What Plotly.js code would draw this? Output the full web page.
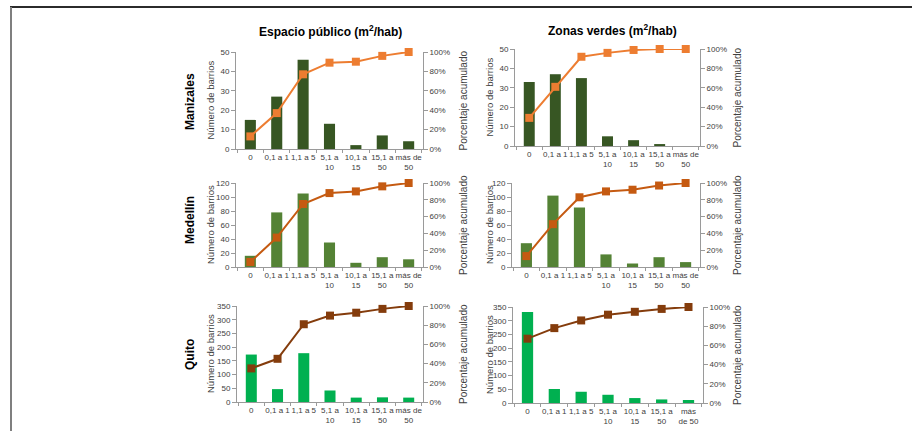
<!DOCTYPE html>
<html>
<head>
<meta charset="utf-8">
<script src="https://cdn.plot.ly/plotly-3.0.1.min.js"></script>
<style>html,body{margin:0;padding:0;background:#fff;}#chart{width:912px;height:431px;}</style>
</head>
<body>
<div id="chart"></div>
<script>
// ---- data ----
const categories = ["0", "0,1 a 1", "1,1 a 5", "5,1 a<br>10", "10,1 a<br>15", "15,1 a<br>50", "más de<br>50"];
const categoriesQuitoZV = ["0", "0,1 a 1", "1,1 a 5", "5,1 a<br>10", "10,1 a<br>15", "15,1 a<br>50", "más<br>de 50"];
const columnTitles = ["Espacio público (m<sup>2</sup>/hab)", "Zonas verdes (m<sup>2</sup>/hab)"];
const cities = ["Manizales", "Medellín", "Quito"];

const manizalesEP = [15, 27, 46, 13, 2, 7, 4];
const manizalesEPcum = [0.13, 0.37, 0.77, 0.89, 0.90, 0.96, 1.00];
const manizalesZV = [33, 37, 35, 5, 3, 1, 0];
const manizalesZVcum = [0.29, 0.61, 0.92, 0.96, 0.99, 1.00, 1.00];

const medellinEP = [16, 78, 105, 35, 6, 14, 11];
const medellinEPcum = [0.06, 0.35, 0.75, 0.88, 0.90, 0.96, 1.00];
const medellinZV = [34, 102, 85, 18, 5, 14, 7];
const medellinZVcum = [0.13, 0.51, 0.83, 0.90, 0.92, 0.97, 1.00];

const quitoEP = [173, 47, 178, 42, 16, 17, 16];
const quitoEPcum = [0.35, 0.45, 0.81, 0.90, 0.93, 0.97, 1.00];
const quitoZV = [332, 51, 41, 30, 18, 13, 11];
const quitoZVcum = [0.67, 0.78, 0.86, 0.92, 0.95, 0.98, 1.00];

const yMax = [50, 120, 350];
const yDtick = [10, 20, 50];

// ---- styling ----
const W = 912, H = 431;
const barColors = ["#375623", "#548235", "#00B050"];
const lineColors = ["#ED7D31", "#C55A11", "#843C0C"];
const font = "Liberation Sans, Arial, sans-serif";
const tickFont = {family: font, size: 8, color: "#404040"};
const axisColor = "#9a9a9a";

// pixel boxes [x0, x1, yTop, yBottom]
const boxes = [
  [236, 423, 52, 149], [515, 700, 49, 146],
  [236, 423, 183, 267], [512, 700, 183, 267],
  [237, 423, 306, 402], [513, 703, 307, 403]
];
const px = x => x / W;
const py = y => 1 - y / H;

const panels = [
  {bars: manizalesEP, cum: manizalesEPcum, cats: categories, row: 0},
  {bars: manizalesZV, cum: manizalesZVcum, cats: categories, row: 0},
  {bars: medellinEP, cum: medellinEPcum, cats: categories, row: 1},
  {bars: medellinZV, cum: medellinZVcum, cats: categories, row: 1},
  {bars: quitoEP, cum: quitoEPcum, cats: categories, row: 2},
  {bars: quitoZV, cum: quitoZVcum, cats: categoriesQuitoZV, row: 2}
];

const data = [];
const layout = {
  width: W, height: H,
  margin: {l: 0, r: 0, t: 0, b: 0},
  paper_bgcolor: "#fff", plot_bgcolor: "rgba(0,0,0,0)",
  showlegend: false,
  bargap: 0.58,
  font: {family: font, size: 8, color: "#404040"},
  annotations: [],
  shapes: [
    {type: "line", xref: "paper", yref: "paper", x0: px(10), x1: 1, y0: py(7), y1: py(7), line: {color: "#2b2b2b", width: 2}},
    {type: "line", xref: "paper", yref: "paper", x0: px(11), x1: px(11), y0: 0, y1: py(7), line: {color: "#7f7f7f", width: 2}}
  ]
};

panels.forEach((p, i) => {
  const n = i + 1;
  const xa = "x" + n, yb = "y" + (2 * n - 1), yl = "y" + (2 * n);
  const b = boxes[i];
  const r = p.row;
  data.push({
    type: "bar", x: p.cats, y: p.bars, xaxis: xa, yaxis: yb,
    marker: {color: barColors[r], line: {width: 0}}, hoverinfo: "skip"
  });
  data.push({
    type: "scatter", mode: "lines+markers", x: p.cats, y: p.cum, xaxis: xa, yaxis: yl,
    line: {color: lineColors[r], width: 2},
    marker: {symbol: "square", size: 8, color: lineColors[r]},
    cliponaxis: false, hoverinfo: "skip"
  });
  const xKey = "xaxis" + n, ybKey = "yaxis" + (2 * n - 1), ylKey = "yaxis" + (2 * n);
  layout[xKey] = {
    domain: [px(b[0]), px(b[1])], anchor: yb,
    type: "category", tickson: "boundaries", ticks: "outside", ticklen: 3, tickcolor: axisColor,
    showline: true, linecolor: axisColor, linewidth: 1, showgrid: false, zeroline: false,
    tickfont: tickFont, tickangle: 0, fixedrange: true
  };
  layout[ybKey] = {
    domain: [py(b[3]), py(b[2])], anchor: xa, range: [0, yMax[r]], dtick: yDtick[r],
    ticks: "outside", ticklen: 4, tickcolor: axisColor, showline: true, linecolor: axisColor,
    showgrid: false, zeroline: false, tickfont: tickFont, fixedrange: true
  };
  layout[ylKey] = {
    domain: [py(b[3]), py(b[2])], anchor: xa, overlaying: yb, side: "right",
    range: [0, 1], dtick: 0.2, tickformat: ".0%",
    ticks: "outside", ticklen: 4, tickcolor: axisColor, showline: true, linecolor: axisColor,
    showgrid: false, zeroline: false, tickfont: tickFont, fixedrange: true
  };
  const yc = py((b[2] + b[3]) / 2);
  const leftTitleX = (i % 2 === 0) ? 210 : 489;
  const rightTitleX = (i % 2 === 0) ? 463 : 737;
  layout.annotations.push({
    text: "Número de barrios", xref: "paper", yref: "paper", x: px(leftTitleX), y: yc,
    textangle: -90, showarrow: false, font: {family: font, size: 9.5, color: "#404040"},
    xanchor: "center", yanchor: "middle"
  });
  layout.annotations.push({
    text: "Porcentaje acumulado", xref: "paper", yref: "paper", x: px(rightTitleX), y: yc,
    textangle: -90, showarrow: false, font: {family: font, size: 10, color: "#404040"},
    xanchor: "center", yanchor: "middle"
  });
});

// column titles
const colTitlePos = [[330, 31], [612, 30]];
columnTitles.forEach((t, j) => {
  layout.annotations.push({
    text: "<b>" + t + "</b>", xref: "paper", yref: "paper",
    x: px(colTitlePos[j][0]), y: py(colTitlePos[j][1]), showarrow: false,
    font: {family: font, size: 12, color: "#000"}, xanchor: "center", yanchor: "middle"
  });
});

// row labels
const rowLabelY = [102, 220, 355];
cities.forEach((c, k) => {
  layout.annotations.push({
    text: "<b>" + c + "</b>", xref: "paper", yref: "paper",
    x: px(190), y: py(rowLabelY[k]), textangle: -90, showarrow: false,
    font: {family: font, size: 12, color: "#000"}, xanchor: "center", yanchor: "middle"
  });
});

Plotly.newPlot("chart", data, layout, {staticPlot: true, displayModeBar: false});
</script>
</body>
</html>
